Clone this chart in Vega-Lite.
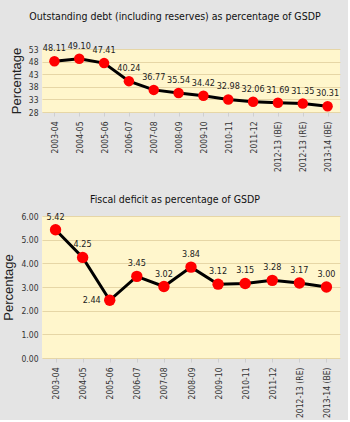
{
  "$schema": "https://vega.github.io/schema/vega-lite/v6.json",
  "background": "#e4e4e4",
  "padding": {"left": 2, "top": 12, "right": 8, "bottom": 2},
  "spacing": 22,
  "config": {
    "font": "DejaVu Sans Condensed",
    "view": {"fill": "#fff6cc", "stroke": null},
    "title": {"fontSize": 10.5, "fontWeight": "normal", "color": "#111", "font": "DejaVu Sans Condensed", "dx": -16},
    "axis": {
      "labelFont": "DejaVu Sans Condensed", "labelFontSize": 8.5, "labelColor": "#333",
      "titleFont": "Liberation Sans", "titleFontSize": 13, "titleFontWeight": "normal", "titleColor": "#222",
      "gridColor": "#e6d6a6", "domain": false, "tickColor": "#cfcfcf"
    }
  },
  "vconcat": [
    {
      "title": {"text": "Outstanding debt (including reserves) as percentage of GSDP", "offset": 19},
      "width": 298, "height": 63,
      "data": {"values": [
        {"year": "2003-04", "v": 48.11},
        {"year": "2004-05", "v": 49.10},
        {"year": "2005-06", "v": 47.41},
        {"year": "2006-07", "v": 40.24},
        {"year": "2007-08", "v": 36.77},
        {"year": "2008-09", "v": 35.54},
        {"year": "2009-10", "v": 34.42},
        {"year": "2010-11", "v": 32.98},
        {"year": "2011-12", "v": 32.06},
        {"year": "2012-13 (BE)", "v": 31.69},
        {"year": "2012-13 (RE)", "v": 31.35},
        {"year": "2013-14 (BE)", "v": 30.31}
      ]},
      "encoding": {
        "x": {"field": "year", "type": "ordinal", "sort": null, "scale": {"paddingInner": 1, "paddingOuter": 0.5},
              "axis": {"title": null, "labelAngle": -90, "grid": false, "ticks": true, "tickSize": 4, "labelPadding": 5}},
        "y": {"field": "v", "type": "quantitative", "scale": {"domain": [28, 53], "nice": false, "zero": false},
              "axis": {"title": "Percentage", "values": [28, 33, 38, 43, 48, 53], "ticks": false, "labelPadding": 4, "titlePadding": 5}}
      },
      "layer": [
        {"mark": {"type": "line", "color": "#000", "strokeWidth": 3}},
        {"mark": {"type": "point", "filled": true, "color": "#ff0000", "opacity": 1, "size": 110}},
        {"mark": {"type": "text", "dy": -13, "fontSize": 9, "color": "#222"}, "encoding": {"text": {"field": "v", "format": ".2f"}}}
      ]
    },
    {
      "title": {"text": "Fiscal deficit as percentage of GSDP", "offset": 7},
      "width": 298, "height": 142,
      "data": {"values": [
        {"year": "2003-04", "v": 5.42},
        {"year": "2004-05", "v": 4.25},
        {"year": "2005-06", "v": 2.44},
        {"year": "2006-07", "v": 3.45},
        {"year": "2007-08", "v": 3.02},
        {"year": "2008-09", "v": 3.84},
        {"year": "2009-10", "v": 3.12},
        {"year": "2010-11", "v": 3.15},
        {"year": "2011-12", "v": 3.28},
        {"year": "2012-13 (RE)", "v": 3.17},
        {"year": "2013-14 (BE)", "v": 3.00}
      ]},
      "encoding": {
        "x": {"field": "year", "type": "ordinal", "sort": null, "scale": {"paddingInner": 1, "paddingOuter": 0.55},
              "axis": {"title": null, "labelAngle": -90, "grid": false, "ticks": true, "tickSize": 4, "labelPadding": 5}},
        "y": {"field": "v", "type": "quantitative", "scale": {"domain": [0, 6], "nice": false},
              "axis": {"title": "Percentage", "values": [0, 1, 2, 3, 4, 5, 6], "format": ".2f", "ticks": false, "labelPadding": 4, "titlePadding": 5}}
      },
      "layer": [
        {"mark": {"type": "line", "color": "#000", "strokeWidth": 3}},
        {"mark": {"type": "point", "filled": true, "color": "#ff0000", "opacity": 1, "size": 130}},
        {"transform": [{"filter": "datum.year != '2005-06'"}],
         "mark": {"type": "text", "dy": -13, "fontSize": 9, "color": "#222"}, "encoding": {"text": {"field": "v", "format": ".2f"}}},
        {"transform": [{"filter": "datum.year == '2005-06'"}],
         "mark": {"type": "text", "dx": -9, "align": "right", "fontSize": 9, "color": "#222"}, "encoding": {"text": {"field": "v", "format": ".2f"}}}
      ]
    }
  ]
}
